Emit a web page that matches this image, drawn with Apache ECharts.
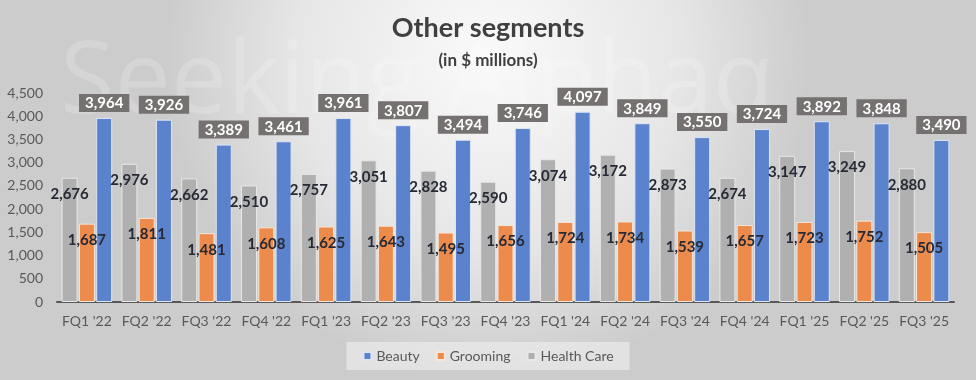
<!DOCTYPE html>
<html>
<head>
<meta charset="utf-8">
<script src="https://cdn.jsdelivr.net/npm/echarts@6/dist/echarts.min.js"></script>
<style>
html,body{margin:0;padding:0;}
#chart{width:976px;height:380px;}
</style>
</head>
<body>
<div id="chart"></div>
<script>
const categories = ["FQ1 '22","FQ2 '22","FQ3 '22","FQ4 '22","FQ1 '23","FQ2 '23","FQ3 '23","FQ4 '23","FQ1 '24","FQ2 '24","FQ3 '24","FQ4 '24","FQ1 '25","FQ2 '25","FQ3 '25"];
const beauty = [3964,3926,3389,3461,3961,3807,3494,3746,4097,3849,3550,3724,3892,3848,3490];
const grooming = [1687,1811,1481,1608,1625,1643,1495,1656,1724,1734,1539,1657,1723,1752,1505];
const healthCare = [2676,2976,2662,2510,2757,3051,2828,2590,3074,3172,2873,2674,3147,3249,2880];

const fmt = v => v.toLocaleString('en-US');
const font = 'Lato, "Open Sans", sans-serif';
const chart = echarts.init(document.getElementById('chart'));
const insideLabel = {
  show: true, position: 'insideTop', distance: 9,
  color: '#262a35', fontWeight: 'bold', fontSize: 15, fontFamily: font,
  formatter: p => fmt(p.value)
};
chart.setOption({
  backgroundColor: {
    type: 'radial', x: 0.5, y: 0.15, r: 0.85,
    colorStops: [{offset: 0, color: '#fafafa'}, {offset: 0.6, color: '#e6e6e6'}, {offset: 1, color: '#cccccc'}]
  },
  animation: false,
  graphic: [{
    type: 'text', left: 60, top: 35, z: -1, silent: true,
    style: {text: 'Seeking Alpha\u03B1', font: '100px "Open Sans", sans-serif', fill: 'rgba(255,255,255,0.18)'}
  }],
  title: {
    text: 'Other segments', subtext: '(in $ millions)', left: 'center', top: 10, itemGap: 10,
    textStyle: {fontFamily: font, fontSize: 27, fontWeight: 'bold', color: '#404040'},
    subtextStyle: {fontFamily: font, fontSize: 17, fontWeight: 'bold', color: '#404040'}
  },
  legend: {
    data: ['Beauty', 'Grooming', 'Health Care'],
    bottom: 10, left: 'center', itemWidth: 8, itemHeight: 8, itemGap: 16,
    backgroundColor: 'rgba(240,240,240,0.6)', padding: [7, 16],
    icon: 'rect',
    textStyle: {fontFamily: font, fontSize: 14, color: '#595959'}
  },
  grid: {left: 57, right: 22, top: 93, bottom: 78, containLabel: false},
  xAxis: {
    type: 'category', data: categories,
    axisLine: {lineStyle: {color: '#595959', width: 2}},
    axisTick: {show: false},
    axisLabel: {interval: 0, color: '#595959', fontSize: 14, fontFamily: font, margin: 12}
  },
  yAxis: {
    type: 'value', min: 0, max: 4500, interval: 500,
    axisLine: {show: false}, axisTick: {show: false}, splitLine: {show: false},
    axisLabel: {color: '#595959', fontSize: 14, fontFamily: font, margin: 14, formatter: v => fmt(v)}
  },
  series: [
    {name: 'Health Care', type: 'bar', data: healthCare, barWidth: 16, barGap: '8%',
     itemStyle: {color: '#b0b0b0', borderColor: '#e8e8e8', borderWidth: 1}, label: insideLabel},
    {name: 'Grooming', type: 'bar', data: grooming, barWidth: 16, barGap: '8%',
     itemStyle: {color: '#ed8b4c', borderColor: '#f5e6da', borderWidth: 1}, label: insideLabel},
    {name: 'Beauty', type: 'bar', data: beauty, barWidth: 16, barGap: '8%',
     itemStyle: {color: '#5b82cc', borderColor: '#dde6f5', borderWidth: 1},
     label: {show: true, position: 'top', distance: 6, color: '#ffffff', fontWeight: 'bold', fontSize: 15,
       fontFamily: font, backgroundColor: '#767171', padding: [2, 6, 1, 6], formatter: p => fmt(p.value)}}
  ]
});
</script>
</body>
</html>
